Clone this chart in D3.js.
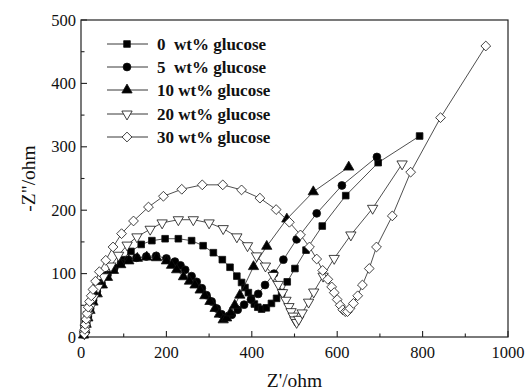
<!DOCTYPE html>
<html>
<head>
<meta charset="utf-8">
<script src="https://cdn.jsdelivr.net/npm/d3@7"></script>
<style>
  body { margin: 0; background: #fff; }
  text { font-family: "Liberation Serif", "Times New Roman", serif; fill: #111; }
</style>
</head>
<body>
<div id="chart"></div>
<script>
// Nyquist data, [Z', -Z''] in ohm
const s0 = [[8,4],[10,12],[13,22],[17,33],[22,45],[29,58],[37,70],[47,83],[60,96],[76,109],[95,122],[117,135],[141,146],[166,152],[197,155],[228,155],[259,152],[286,144],[310,133],[331,122],[349,110],[365,96],[376,86],[384,78],[392,70],[399,61],[406,52],[414,47],[423,44],[434,46],[446,53],[458,61],[470,70],[483,87],[501,108],[527,137],[565,175],[620,223],[696,275],[793,317]];
const s5 = [[7,4],[9,12],[12,22],[16,33],[21,45],[28,58],[37,72],[48,85],[62,98],[78,109],[94,117],[111,122],[130,125],[153,127],[176,128],[200,124],[220,119],[233,113],[244,106],[259,96],[271,87],[283,77],[294,66],[306,56],[318,45],[329,36],[341,31],[353,35],[367,43],[382,51],[398,59],[415,68],[431,82],[452,100],[474,122],[505,154],[552,195],[611,239],[693,284]];
const s10 = [[6,3],[9,11],[12,20],[16,30],[21,42],[28,55],[38,68],[50,82],[62,94],[76,105],[93,114],[112,120],[132,124],[154,126],[177,125],[200,120],[212,113],[224,106],[240,95],[254,88],[267,82],[279,74],[290,65],[302,56],[314,45],[324,36],[333,27],[341,30],[350,38],[360,50],[372,66],[404,111],[435,143],[482,186],[544,229],[627,268]];
const s20 = [[8,5],[10,14],[13,24],[17,35],[22,47],[30,62],[40,78],[53,95],[70,112],[88,129],[108,145],[131,158],[162,170],[190,180],[228,185],[263,185],[300,180],[333,171],[365,158],[390,144],[411,128],[432,112],[450,97],[462,83],[472,70],[480,58],[487,48],[492,40],[497,33],[501,27],[505,23],[510,28],[518,38],[533,55],[545,71],[567,96],[593,124],[632,161],[683,203],[752,273]];
const s30 = [[8,5],[9,12],[10,20],[12,28],[14,37],[17,47],[20,56],[24,65],[28,75],[34,88],[43,103],[58,121],[75,142],[95,163],[123,183],[158,205],[193,222],[236,233],[284,240],[332,240],[376,232],[419,219],[457,201],[488,181],[514,161],[535,142],[552,123],[566,105],[578,91],[587,79],[593,70],[600,59],[607,50],[613,43],[619,40],[624,40],[630,45],[638,53],[648,65],[659,82],[675,108],[692,142],[729,191],[772,260],[842,346],[948,459]];

const labels = ["0  wt% glucose", "5  wt% glucose", "10 wt% glucose", "20 wt% glucose", "30 wt% glucose"];
const xTicks = [0, 200, 400, 600, 800, 1000];
const yTicks = [0, 100, 200, 300, 400, 500];

const W = 526, H = 392;
const margin = {top: 20, right: 18, bottom: 55, left: 81};

const svg = d3.select("#chart").append("svg")
  .attr("width", W).attr("height", H);

const x = d3.scaleLinear().domain([0, 1000]).range([margin.left, W - margin.right]);
const y = d3.scaleLinear().domain([0, 500]).range([H - margin.bottom, margin.top]);

const series = [
  {data: s0,  shape: "square",   fill: "#000"},
  {data: s5,  shape: "circle",   fill: "#000"},
  {data: s10, shape: "triUp",    fill: "#000"},
  {data: s20, shape: "triDown",  fill: "#fff"},
  {data: s30, shape: "diamond",  fill: "#fff"}
];

function marker(shape) {
  if (shape === "square") return d3.symbol(d3.symbolSquare, 44)();
  if (shape === "circle") return d3.symbol(d3.symbolCircle, 48)();
  if (shape === "triUp" || shape === "triDown") return d3.symbol(d3.symbolTriangle, 46)();
  // diamond: rotated square
  return "M0,-4.9L4.9,0L0,4.9L-4.9,0Z";
}
function rot(shape) { return shape === "triDown" ? " rotate(180)" : ""; }

// frame
svg.append("rect")
  .attr("x", x(0)).attr("y", y(500))
  .attr("width", x(1000) - x(0)).attr("height", y(0) - y(500))
  .attr("fill", "none").attr("stroke", "#222").attr("stroke-width", 1.2);

// ticks (inward, bottom and left)
const xMinor = d3.range(100, 1000, 200);
const yMinor = d3.range(50, 500, 100);
const axG = svg.append("g").attr("stroke", "#222").attr("stroke-width", 1.1);
xTicks.forEach(t => axG.append("line").attr("x1", x(t)).attr("x2", x(t)).attr("y1", y(0)).attr("y2", y(0) - 6));
xMinor.forEach(t => axG.append("line").attr("x1", x(t)).attr("x2", x(t)).attr("y1", y(0)).attr("y2", y(0) - 3.5));
yTicks.forEach(t => axG.append("line").attr("x1", x(0)).attr("x2", x(0) + 6).attr("y1", y(t)).attr("y2", y(t)));
yMinor.forEach(t => axG.append("line").attr("x1", x(0)).attr("x2", x(0) + 3.5).attr("y1", y(t)).attr("y2", y(t)));

svg.append("g").selectAll("text").data(xTicks).join("text")
  .attr("x", d => x(d)).attr("y", y(0) + 21)
  .attr("text-anchor", "middle").attr("font-size", 16.5)
  .text(d => d);

svg.append("g").selectAll("text").data(yTicks).join("text")
  .attr("x", x(0) - 5).attr("y", d => y(d) + 5.5)
  .attr("text-anchor", "end").attr("font-size", 16.5)
  .text(d => d);

svg.append("text")
  .attr("x", (x(0) + x(1000)) / 2).attr("y", 387)
  .attr("text-anchor", "middle").attr("font-size", 19.5)
  .text("Z'/ohm");

svg.append("text")
  .attr("transform", `translate(35,${(y(0) + y(500)) / 2}) rotate(-90)`)
  .attr("text-anchor", "middle").attr("font-size", 19.5)
  .text('-Z"/ohm');

// curves
const line = d3.line().x(d => x(d[0])).y(d => y(d[1]));
series.forEach(s => {
  const g = svg.append("g");
  g.append("path").datum(s.data)
    .attr("d", line).attr("fill", "none")
    .attr("stroke", "#222").attr("stroke-width", 0.8);
  g.selectAll("path.m").data(s.data).join("path")
    .attr("class", "m")
    .attr("d", marker(s.shape))
    .attr("transform", d => `translate(${x(d[0])},${y(d[1])})${rot(s.shape)}`)
    .attr("fill", s.fill).attr("stroke", "#111").attr("stroke-width", 0.8);
});

// legend
const legY = [44, 67, 90, 114, 137];
const leg = svg.append("g");
series.forEach((s, i) => {
  leg.append("line").attr("x1", 107).attr("x2", 148)
    .attr("y1", legY[i]).attr("y2", legY[i])
    .attr("stroke", "#222").attr("stroke-width", 0.9);
  leg.append("path").attr("d", marker(s.shape))
    .attr("transform", `translate(127,${legY[i]})${rot(s.shape)}`)
    .attr("fill", s.fill).attr("stroke", "#111").attr("stroke-width", 0.8);
  leg.append("text").attr("x", 157).attr("y", legY[i] + 5.5)
    .attr("font-size", 17).attr("font-weight", "bold")
    .attr("xml:space", "preserve").style("white-space", "pre")
    .text(labels[i]);
});
</script>
</body>
</html>
